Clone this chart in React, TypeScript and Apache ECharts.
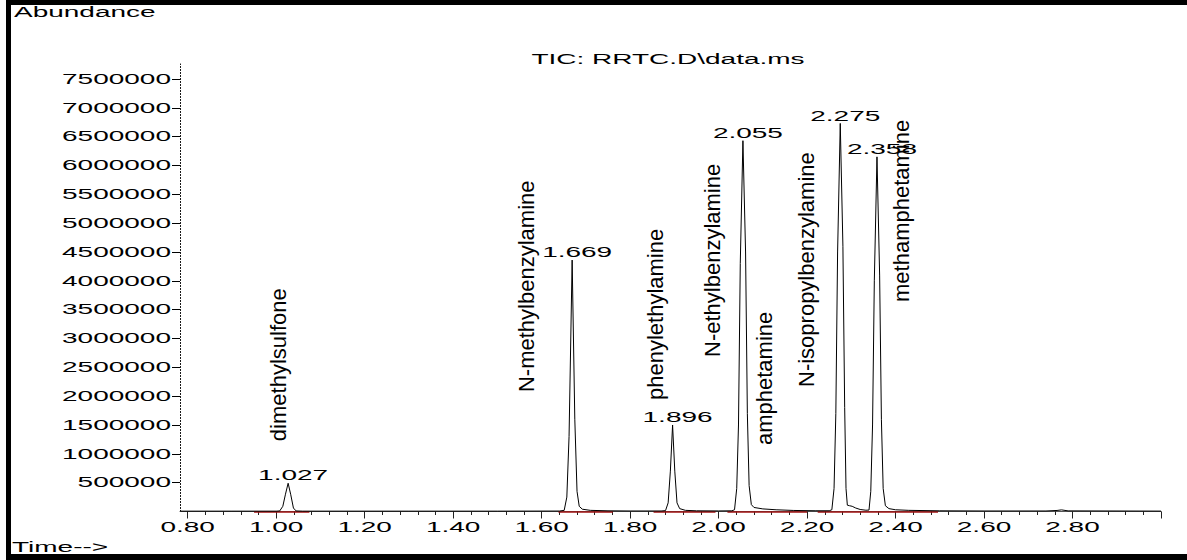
import React, { useEffect, useRef } from "react";
import * as echarts from "echarts";

// ---------- data ----------
const timeTickLabels = ["0.80", "1.00", "1.20", "1.40", "1.60", "1.80", "2.00", "2.20", "2.40", "2.60", "2.80"];
const timeTickValues = [0.8, 1.0, 1.2, 1.4, 1.6, 1.8, 2.0, 2.2, 2.4, 2.6, 2.8];
const timeMajorTicks = [0.8, 1.0, 1.2, 1.4, 1.6, 1.8, 2.0, 2.2, 2.4, 2.6, 2.8, 3.0];
const abundanceTicks = [500000, 1000000, 1500000, 2000000, 2500000, 3000000, 3500000, 4000000, 4500000, 5000000, 5500000, 6000000, 6500000, 7000000, 7500000];
const abundanceTickLabels = ["500000", "1000000", "1500000", "2000000", "2500000", "3000000", "3500000", "4000000", "4500000", "5000000", "5500000", "6000000", "6500000", "7000000", "7500000"];

const traceTime = [
  0.783, 0.9, 1.0, 1.008, 1.015, 1.021, 1.027, 1.033, 1.039, 1.045, 1.06,
  1.3, 1.5, 1.64, 1.651, 1.657, 1.662, 1.669, 1.675, 1.68, 1.685, 1.692, 1.71, 1.75, 1.8,
  1.87, 1.88, 1.886, 1.891, 1.896, 1.901, 1.906, 1.912, 1.925, 1.95, 2.0,
  2.03, 2.036, 2.041, 2.045, 2.049, 2.055, 2.061, 2.065, 2.069, 2.074, 2.08, 2.1, 2.13, 2.17, 2.22,
  2.25, 2.256, 2.261, 2.265, 2.269, 2.275, 2.281, 2.285, 2.288, 2.291, 2.296, 2.302, 2.31, 2.32, 2.333,
  2.34, 2.344, 2.348, 2.352, 2.358, 2.364, 2.368, 2.372, 2.377, 2.385, 2.4, 2.43, 2.5, 2.6,
  2.74, 2.765, 2.775, 2.79, 3.0,
];
const traceAbundance = [
  6000, 6000, 6000, 10000, 90000, 300000, 490000, 290000, 60000, 10000, 6000,
  6000, 6000, 8000, 20000, 250000, 1300000, 4360000, 1600000, 350000, 90000, 40000, 20000, 12000, 9000,
  9000, 15000, 150000, 700000, 1500000, 700000, 150000, 50000, 20000, 12000, 10000,
  12000, 30000, 400000, 1500000, 4300000, 6430000, 4500000, 1700000, 450000, 120000, 70000, 45000, 30000, 18000, 13000,
  13000, 30000, 400000, 1700000, 4500000, 6730000, 4600000, 1800000, 400000, 110000, 100000, 90000, 60000, 35000, 22000,
  25000, 350000, 1500000, 4000000, 6150000, 4100000, 1600000, 400000, 100000, 50000, 30000, 20000, 12000, 9000,
  9000, 18000, 28000, 11000, 7000,
];

const peakTimes = [1.027, 1.669, 1.896, 2.055, 2.275, 2.358];
const peakHeights = [490000, 4360000, 1500000, 6430000, 6730000, 6150000];
const peakLabels = ["1.027", "1.669", "1.896", "2.055", "2.275", "2.358"];

const compoundNames = [
  "dimethylsulfone",
  "N-methylbenzylamine",
  "phenylethylamine",
  "N-ethylbenzylamine",
  "amphetamine",
  "N-isopropylbenzylamine",
  "methamphetamine",
];

const baselineStarts = [0.95, 1.638, 1.853, 2.02, 2.224];
const baselineEnds = [1.075, 1.761, 1.993, 2.2, 2.496];

// ---------- layout (not data) ----------
const X_MIN = 0.7826;
const X_MAX = 3.0;
const Y_MAX = 7760000;
// anchor (bottom end) of each rotated compound label, in time / abundance units
const compoundAnchorTime = [1.005, 1.566, 1.857, 1.986, 2.104, 2.198, 2.413];
const compoundAnchorAbund = [1220000, 2072000, 1933000, 2679000, 1153000, 2159000, 3633000];

const FONT = '"Liberation Sans", Arial, Helvetica, sans-serif';
const STRETCH = 2.0;

export default function App() {
  const ref = useRef<HTMLDivElement>(null);

  useEffect(() => {
    document.body.style.margin = "0";
    const el = ref.current;
    if (!el) return;
    const chart = echarts.init(el, null, { renderer: "svg" });

    const minorTicks: number[] = [];
    for (let i = 0; i < timeMajorTicks.length - 1; i++) {
      const a = timeMajorTicks[i];
      const b = timeMajorTicks[i + 1];
      for (let k = 1; k < 5; k++) minorTicks.push(+(a + ((b - a) * k) / 5).toFixed(3));
    }

    const traceData = traceTime.map((t, i) => [t, traceAbundance[i]]);
    const baselineData = baselineStarts.map((s, i) => [
      { coord: [s, 0] },
      { coord: [baselineEnds[i], 0] },
    ]);

    const option: any = {
      animation: false,
      backgroundColor: "#ffffff",
      grid: { left: 180, right: 26, top: 64, bottom: 48.5, containLabel: false, outerBoundsMode: "none" },
      xAxis: [
        {
          type: "value",
          min: X_MIN,
          max: X_MAX,
          position: "bottom",
          axisLine: { show: true, onZero: false, lineStyle: { color: "#555", width: 1 } },
          axisTick: { show: true, customValues: timeMajorTicks, length: 7, lineStyle: { color: "#222", width: 1 } },
          axisLabel: { show: false },
          splitLine: { show: false },
        },
        {
          type: "value",
          min: X_MIN,
          max: X_MAX,
          position: "bottom",
          axisLine: { show: false },
          axisTick: { show: true, customValues: minorTicks, length: 3.5, lineStyle: { color: "#222", width: 1 } },
          axisLabel: { show: false },
          splitLine: { show: false },
        },
      ],
      yAxis: {
        type: "value",
        min: 0,
        max: Y_MAX,
        axisLine: { show: true, onZero: false, lineStyle: { color: "#000", width: 1, type: [1, 2] } },
        axisTick: { show: true, customValues: abundanceTicks, length: 8, lineStyle: { color: "#000", width: 1 } },
        axisLabel: { show: false },
        splitLine: { show: false },
      },
      series: [
        {
          type: "line",
          data: traceData,
          symbol: "none",
          smooth: false,
          lineStyle: { color: "#000", width: 1 },
          z: 3,
          markLine: {
            silent: true,
            symbol: ["none", "none"],
            label: { show: false },
            lineStyle: { color: "#a01010", width: 1.5, type: "solid" },
            data: baselineData,
            z: 2,
          },
        },
      ],
    };
    chart.setOption(option);

    const toPx = (t: number, a: number) => chart.convertToPixel({ seriesIndex: 0 }, [t, a]) as number[];

    const hText = (text: string, x: number, y: number, align: string) => ({
      type: "text",
      x,
      y,
      scaleX: STRETCH,
      silent: true,
      style: {
        text,
        x: 0,
        y: 0,
        fill: "#000",
        font: `14px ${FONT}`,
        textAlign: align,
        align,
        textVerticalAlign: "middle",
        verticalAlign: "middle",
      },
    });

    const elements: any[] = [];
    // frame
    elements.push({ type: "rect", shape: { x: 6, y: 0, width: 1181, height: 5 }, style: { fill: "#000" }, silent: true });
    elements.push({ type: "rect", shape: { x: 6, y: 0, width: 5, height: 560 }, style: { fill: "#000" }, silent: true });
    elements.push({ type: "rect", shape: { x: 6, y: 554, width: 1181, height: 6 }, style: { fill: "#000" }, silent: true });

    elements.push(hText("Abundance", 14, 12.5, "left"));
    elements.push(hText("Time-->", 12, 547, "left"));
    elements.push(hText("TIC: RRTC.D\\data.ms", 668, 59, "center"));

    abundanceTicks.forEach((v, i) => {
      const p = toPx(X_MIN, v);
      elements.push(hText(abundanceTickLabels[i], p[0] - 9, p[1], "right"));
    });
    timeTickValues.forEach((v, i) => {
      const p = toPx(v, 0);
      elements.push(hText(timeTickLabels[i], p[0], p[1] + 15.5, "center"));
    });
    peakTimes.forEach((t, i) => {
      const p = toPx(t, peakHeights[i]);
      elements.push(hText(peakLabels[i], p[0] + 5, p[1] - 7.5, "center"));
    });
    compoundNames.forEach((name, i) => {
      const p = toPx(compoundAnchorTime[i], compoundAnchorAbund[i]);
      elements.push({
        type: "text",
        x: p[0],
        y: p[1],
        rotation: Math.PI / 2,
        silent: true,
        style: {
          text: name,
          x: 0,
          y: 0,
          fill: "#000",
          font: `22px ${FONT}`,
          textAlign: "left",
          align: "left",
          textVerticalAlign: "middle",
          verticalAlign: "middle",
        },
      });
    });

    chart.setOption({ graphic: { elements } });

    return () => {
      chart.dispose();
    };
  }, []);

  return <div ref={ref} style={{ width: 1187, height: 560 }} />;
}
